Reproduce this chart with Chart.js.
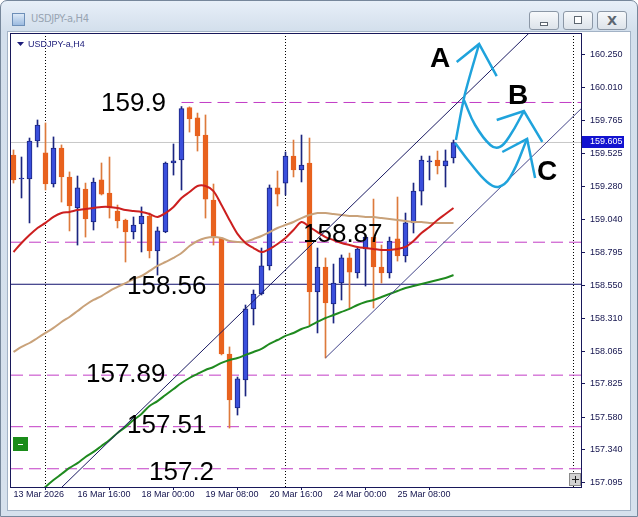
<!DOCTYPE html>
<html>
<head>
<meta charset="utf-8">
<script src="https://cdn.jsdelivr.net/npm/chart.js@4.4.1/dist/chart.umd.min.js"></script>
<style>
body { margin: 0; background: #fff; }
#win { position: absolute; left: 0; top: 0; width: 636px; height: 515px; border: 1px solid #76879b; border-radius: 7px 7px 0 0; background: linear-gradient(#e7eff8, #d3dfec 30px, #d6e1ed); }
#icon { position: absolute; left: 11px; top: 12px; width: 11px; height: 11px; border: 1px solid #6d8fb8; background: linear-gradient(#dce9f7, #9cbbe0); }
#title { position: absolute; left: 30px; top: 11px; font: 11px "DejaVu Sans Condensed", "DejaVu Sans"; color: #98a4b2; letter-spacing: -0.3px; }
.btn { position: absolute; top: 10px; width: 28px; height: 17px; border: 1px solid #8b97a6; border-radius: 3px; background: linear-gradient(#f7f9fb, #dde3ea); }
.btn i { position: absolute; display: block; border: 1px solid #5d6670; background: #fff; }
#bx { font: bold 13px "DejaVu Sans"; color: #5d6670; text-align: center; line-height: 17px; }
#client { position: absolute; left: 7px; top: 31px; width: 622px; height: 478px; background: #fff; border: 1px solid #a3b3c6; }
canvas { position: absolute; left: 0; top: 0; }
</style>
</head>
<body>
<div id="win">
  <div id="icon"></div>
  <div id="title">USDJPY-a,H4</div>
  <div class="btn" style="left:528px"><i style="left:10px;top:10px;width:6px;height:2px"></i></div>
  <div class="btn" style="left:562px"><i style="left:10px;top:4px;width:6px;height:6px"></i></div>
  <div class="btn" id="bx" style="left:596px">X</div>
</div>
<div id="client"></div>
<canvas id="priceChart" width="638" height="517"></canvas>
<script>
//candles, one per H4 bar (13 Mar 08:00 .. 26 Mar 12:00)
var opens = [159.513, 159.336, 159.336, 159.616, 159.528, 159.299, 159.564, 159.351, 159.122, 159.262,
    159.019, 159.329, 159.233, 159.100, 159.034, 158.945, 159.004, 159.063, 158.805, 158.945,
    159.454, 159.476, 159.862, 159.786, 159.660, 159.181, 158.901, 158.046, 157.648, 157.854,
    158.378, 158.488, 158.695, 159.270, 159.306, 159.505, 159.402, 159.454, 158.503, 158.687,
    158.415, 158.569, 158.754, 158.643, 158.820, 158.908, 158.687, 158.643, 158.894, 158.768,
    159.012, 159.247, 159.461, 159.476, 159.432, 159.491];
var highs = [159.550, 159.498, 159.638, 159.771, 159.749, 159.646, 159.587, 159.388, 159.358, 159.306,
    159.343, 159.454, 159.498, 159.144, 159.040, 159.056, 159.130, 159.085, 158.982, 159.461,
    159.594, 159.870, 159.868, 159.822, 159.808, 159.299, 158.905, 158.098, 157.876, 158.407,
    158.518, 158.827, 159.292, 159.395, 159.535, 159.623, 159.660, 159.638, 158.827, 158.754,
    158.709, 158.776, 158.790, 158.835, 158.923, 159.188, 158.849, 158.908, 159.203, 159.085,
    159.306, 159.505, 159.505, 159.542, 159.550, 159.623];
var lows = [159.306, 159.196, 159.012, 159.572, 159.255, 159.277, 159.166, 158.953, 158.849, 158.908,
    158.960, 159.218, 159.048, 158.975, 158.724, 158.894, 158.798, 158.754, 158.628, 158.940,
    159.365, 159.255, 159.682, 159.542, 159.048, 158.849, 158.039, 157.500, 157.596, 157.736,
    158.260, 158.481, 158.665, 159.137, 159.218, 159.351, 159.314, 158.260, 158.201, 158.017,
    158.274, 158.444, 158.385, 158.606, 158.547, 158.385, 158.569, 158.606, 158.731, 158.724,
    158.938, 159.144, 159.329, 159.373, 159.277, 159.454];
var closes = [159.329, 159.340, 159.616, 159.734, 159.299, 159.564, 159.351, 159.137, 159.270, 159.041,
    159.314, 159.225, 159.122, 159.026, 158.945, 158.997, 159.063, 158.805, 158.953, 159.454,
    159.469, 159.855, 159.778, 159.653, 159.188, 158.901, 158.046, 157.707, 157.862, 158.378,
    158.488, 158.695, 159.270, 159.225, 159.505, 159.402, 159.439, 158.503, 158.687, 158.422,
    158.569, 158.754, 158.650, 158.820, 158.908, 158.687, 158.643, 158.879, 158.768, 159.012,
    159.247, 159.476, 159.469, 159.432, 159.469, 159.605];

//moving averages (red, tan, green), one value per bar
var maFast = [158.798, 158.864, 158.923, 158.975, 159.012, 159.056, 159.085, 159.093, 159.107, 159.115,
    159.122, 159.130, 159.130, 159.122, 159.107, 159.100, 159.093, 159.078, 159.056, 159.085,
    159.130, 159.196, 159.240, 159.284, 159.284, 159.247, 159.144, 159.034, 158.931, 158.864,
    158.827, 158.798, 158.820, 158.857, 158.901, 158.960, 159.019, 158.982, 158.945, 158.908,
    158.886, 158.864, 158.849, 158.835, 158.827, 158.820, 158.813, 158.813, 158.820, 158.835,
    158.879, 158.938, 158.982, 159.034, 159.078, 159.122];
var maMid = [158.061, 158.098, 158.127, 158.164, 158.201, 158.238, 158.282, 158.319, 158.363, 158.407,
    158.444, 158.473, 158.510, 158.540, 158.569, 158.599, 158.621, 158.658, 158.695, 158.724,
    158.754, 158.790, 158.842, 158.879, 158.901, 158.908, 158.901, 158.879, 158.872, 158.872,
    158.894, 158.916, 158.945, 158.975, 158.997, 159.019, 159.048, 159.071, 159.085, 159.085,
    159.078, 159.071, 159.063, 159.063, 159.056, 159.056, 159.048, 159.041, 159.034, 159.026,
    159.019, 159.019, 159.012, 159.012, 159.012, 159.012];
var maSlow = [null, null, null, 157.007, 157.066, 157.117, 157.161, 157.206, 157.242, 157.287,
    157.324, 157.368, 157.412, 157.464, 157.508, 157.559, 157.604, 157.663, 157.699, 157.744,
    157.788, 157.832, 157.869, 157.899, 157.928, 157.950, 157.980, 158.002, 158.016, 158.039,
    158.061, 158.083, 158.120, 158.149, 158.179, 158.201, 158.230, 158.252, 158.282, 158.311,
    158.333, 158.356, 158.378, 158.407, 158.429, 158.444, 158.466, 158.488, 158.510, 158.533,
    158.547, 158.562, 158.577, 158.592, 158.606, 158.628];

//axis labels
var dateLabels = ['13 Mar 2026', '16 Mar 16:00', '18 Mar 00:00', '19 Mar 08:00', '20 Mar 16:00', '24 Mar 00:00', '25 Mar 08:00'];
var dateTickBars = [0, 8, 16, 24, 32, 40, 48];
var priceTicks = [160.250, 160.010, 159.765, 159.525, 159.280, 159.040, 158.795, 158.550, 158.310, 158.065, 157.825, 157.580, 157.340, 157.095];

//objects drawn on the chart
var levelPrices = [159.9, 158.87, 157.89, 157.51, 157.2];
var levelStartBars = [21, null, null, null, null];
var supportPrice = 158.56;
var bidPrice = 159.605;
var separatorBars = [4, 34, 70];
var upperLineBars = [23.94, 54.56];
var upperLinePrices = [158.090, 159.845];
var lowerLineBars = [39, 70.8];
var lowerLinePrices = [158.017, 159.845];
var noteTexts = ['159.9', '158.56', '157.89', '157.51', '157.2', '158.87'];
var noteBars = [10.94, 14.19, 9.06, 14.19, 16.94, 36.19];
var notePrices = [159.837, 158.488, 157.840, 157.464, 157.117, 158.872];
var letterTexts = ['A', 'B', 'C'];
var letterBars = [52.06, 61.81, 65.44];
var letterPrices = [160.162, 159.889, 159.329];

//hand drawn blue arrows (bar, price)
var arrowABars = [55.3, 56.4, 58.2];
var arrowAPrices = [159.623, 159.955, 160.331];
var headABars = [55.4, 58.2, 60.4];
var headAPrices = [160.198, 160.331, 160.095];
var arrowBBars = [56.3, 57.7, 59.6, 60.8, 62.1, 63.8];
var arrowBPrices = [159.918, 159.734, 159.587, 159.572, 159.660, 159.837];
var headBBars = [60.4, 63.8, 66.1];
var headBPrices = [159.771, 159.837, 159.609];
var arrowCBars = [55.2, 57.1, 59.2, 60.6, 62.1, 64.2];
var arrowCPrices = [159.601, 159.454, 159.314, 159.277, 159.351, 159.631];
var headCBars = [61.1, 64.2, 65.2];
var headCPrices = [159.535, 159.631, 159.343];

var X_MIN = -0.3125, X_MAX = 70.9375;
var Y_MIN = 157.0655, Y_MAX = 160.4048;

var BULL = '#3a4fdc', BULL_EDGE = '#1b2580', BEAR = '#e8621e', BEAR_WICK = '#dd7a3c';
var MAGENTA = '#c23cc6', ARROW = '#1fa3dc';

//pairs two arrays into x/y points
function toPoints(bars, values) {
    var pts = [];
    for (var i = 0; i < bars.length; i++) {
        pts.push({x: bars[i], y: values[i]});
    }
    return pts;
}

//series indexed by bar number
function seriesPoints(values) {
    var pts = [];
    values.forEach(function(v, i) {
        if (v !== null) pts.push({x: i, y: v});
    });
    return pts;
}

//stretches a 2 point trend line to the edge of the chart
function extendLine(bars, prices, toLeft, toRight) {
    var slope = (prices[1] - prices[0]) / (bars[1] - bars[0]);
    var x0 = toLeft ? X_MIN - 1 : bars[0];
    var x1 = toRight ? X_MAX + 1 : bars[1];
    return [{x: x0, y: prices[0] + slope * (x0 - bars[0])}, {x: x1, y: prices[0] + slope * (x1 - bars[0])}];
}

function lineSet(points, color, width, order, extra) {
    var ds = {
        type: 'line', data: points, borderColor: color, borderWidth: width,
        pointRadius: 0, fill: false, tension: 0, order: order
    };
    for (var k in extra) ds[k] = extra[k];
    return ds;
}

function buildDatasets() {
    var sets = [];
    var wicks = [], bodies = [], bodyColors = [], edgeColors = [], wickColors = [];
    for (var i = 0; i < opens.length; i++) {
        var up = closes[i] >= opens[i];
        wicks.push({x: i, y: [lows[i], highs[i]]});
        bodies.push({x: i, y: [opens[i], closes[i]]});
        bodyColors.push(up ? BULL : BEAR);
        edgeColors.push(up ? BULL_EDGE : BEAR);
        wickColors.push(up ? BULL_EDGE : BEAR_WICK);
    }

    //horizontal levels and separators go underneath
    levelPrices.forEach(function(p, i) {
        var start = levelStartBars[i] === null ? X_MIN : levelStartBars[i];
        sets.push(lineSet([{x: start, y: p}, {x: X_MAX, y: p}], MAGENTA, 1, 20, {borderDash: [12, 6]}));
    });
    sets.push(lineSet([{x: X_MIN, y: supportPrice}, {x: X_MAX, y: supportPrice}], '#10106e', 1, 20));
    sets.push(lineSet([{x: X_MIN, y: bidPrice}, {x: X_MAX, y: bidPrice}], '#c8c8c8', 1, 21));
    separatorBars.forEach(function(b) {
        sets.push(lineSet([{x: b, y: Y_MIN}, {x: b, y: Y_MAX}], '#000000', 1, 20, {borderDash: [1, 2]}));
    });

    sets.push({type: 'bar', data: wicks, backgroundColor: wickColors, barThickness: 1, grouped: false, order: 12});
    sets.push({type: 'bar', data: bodies, backgroundColor: bodyColors, borderColor: edgeColors, borderWidth: 1,
        borderSkipped: false, barThickness: 5, minBarLength: 1, grouped: false, order: 11});

    sets.push(lineSet(seriesPoints(maMid), '#c9a27a', 2, 6, {tension: 0.3}));
    sets.push(lineSet(seriesPoints(maFast), '#cc1f1f', 2, 5, {tension: 0.3}));
    sets.push(lineSet(seriesPoints(maSlow), '#1f8a1f', 2, 7, {tension: 0.3}));

    sets.push(lineSet(extendLine(upperLineBars, upperLinePrices, true, true), '#1a1a62', 1, 4));
    sets.push(lineSet(extendLine(lowerLineBars, lowerLinePrices, false, true), '#44468a', 1, 4));

    sets.push(lineSet(toPoints(arrowABars, arrowAPrices), ARROW, 2.5, 1, {tension: 0.3}));
    sets.push(lineSet(toPoints(headABars, headAPrices), ARROW, 2.5, 1));
    sets.push(lineSet(toPoints(arrowBBars, arrowBPrices), ARROW, 2.5, 1, {tension: 0.4}));
    sets.push(lineSet(toPoints(headBBars, headBPrices), ARROW, 2.5, 1));
    sets.push(lineSet(toPoints(arrowCBars, arrowCPrices), ARROW, 2.5, 1, {tension: 0.4}));
    sets.push(lineSet(toPoints(headCBars, headCPrices), ARROW, 2.5, 1));
    return sets;
}

//texts, frame and small widgets that sit on top of the chart
var overlayPlugin = {
    id: 'overlay',
    afterDraw: function(chart) {
        var ctx = chart.ctx, xs = chart.scales.x, ys = chart.scales.y, area = chart.chartArea;
        ctx.save();

        //frame around the price window
        ctx.strokeStyle = '#18185a';
        ctx.lineWidth = 1;
        ctx.strokeRect(area.left - 0.5, area.top - 0.5, area.right - area.left + 1, area.bottom - area.top + 1);

        //symbol caption
        ctx.fillStyle = '#1c1c7a';
        ctx.beginPath();
        ctx.moveTo(area.left + 6, area.top + 8);
        ctx.lineTo(area.left + 13, area.top + 8);
        ctx.lineTo(area.left + 9.5, area.top + 12);
        ctx.fill();
        ctx.font = '9px "Liberation Sans"';
        ctx.textBaseline = 'alphabetic';
        ctx.fillText('USDJPY-a,H4', area.left + 17, area.top + 13);

        //price notes
        ctx.fillStyle = '#000';
        ctx.font = '26px "Liberation Sans"';
        noteTexts.forEach(function(t, i) {
            ctx.fillText(t, xs.getPixelForValue(noteBars[i]), ys.getPixelForValue(notePrices[i]));
        });
        ctx.font = 'bold 28px "Liberation Sans"';
        letterTexts.forEach(function(t, i) {
            ctx.fillText(t, xs.getPixelForValue(letterBars[i]), ys.getPixelForValue(letterPrices[i]));
        });

        //green minus and grey plus buttons
        ctx.fillStyle = '#1a8c1a';
        ctx.fillRect(area.left + 2, area.bottom - 50, 15, 14);
        ctx.fillStyle = '#fff';
        ctx.fillRect(area.left + 7, area.bottom - 43, 5, 1);
        ctx.fillStyle = '#d2d2d2';
        ctx.fillRect(area.right - 12, area.bottom - 14, 12, 13);
        ctx.strokeStyle = '#8a8a8a';
        ctx.strokeRect(area.right - 11.5, area.bottom - 13.5, 11, 12);
        ctx.fillStyle = '#222';
        ctx.fillRect(area.right - 9, area.bottom - 8, 7, 1);
        ctx.fillRect(area.right - 6, area.bottom - 11, 1, 7);

        //bid label on the price scale
        var by = Math.round(ys.getPixelForValue(bidPrice));
        ctx.fillStyle = '#1212d0';
        ctx.fillRect(area.right + 1, by - 6, 42, 12);
        ctx.fillStyle = '#fff';
        ctx.font = '9px "Liberation Sans"';
        ctx.textBaseline = 'middle';
        ctx.fillText(bidPrice.toFixed(3), area.right + 9, by);
        ctx.restore();
    }
};

function drawChart() {
    var ctx = document.getElementById('priceChart').getContext('2d');
    Chart.defaults.font.family = '"Liberation Sans", Arial, sans-serif';

    new Chart(ctx, {
        type: 'bar',
        data: {datasets: buildDatasets()},
        plugins: [overlayPlugin],
        options: {
            responsive: false,
            animation: false,
            devicePixelRatio: 1,
            layout: {padding: {left: 11, top: 34, right: 0, bottom: 0}},
            plugins: {legend: {display: false}, tooltip: {enabled: false}},
            scales: {
                x: {
                    type: 'linear', min: X_MIN, max: X_MAX, offset: false,
                    afterBuildTicks: function(axis) {
                        axis.ticks = dateTickBars.map(function(v) { return {value: v}; });
                    },
                    afterFit: function(axis) { axis.height = 30; },
                    ticks: {
                        callback: function(v) { return dateLabels[dateTickBars.indexOf(v)]; },
                        align: 'start', maxRotation: 0, autoSkip: false, padding: -1,
                        color: '#14144e', font: {size: 9}
                    },
                    grid: {drawOnChartArea: false, tickLength: 3, color: '#18185a'},
                    border: {display: false}
                },
                y: {
                    type: 'linear', position: 'right', min: Y_MIN, max: Y_MAX,
                    afterBuildTicks: function(axis) {
                        axis.ticks = priceTicks.map(function(v) { return {value: v}; });
                    },
                    afterFit: function(axis) { axis.width = 57; },
                    ticks: {
                        callback: function(v) { return v.toFixed(3); },
                        autoSkip: false, padding: 5, color: '#14144e', font: {size: 9}
                    },
                    grid: {drawOnChartArea: false, tickLength: 4, color: '#18185a'},
                    border: {display: false}
                }
            }
        }
    });
}

drawChart();
</script>
</body>
</html>
